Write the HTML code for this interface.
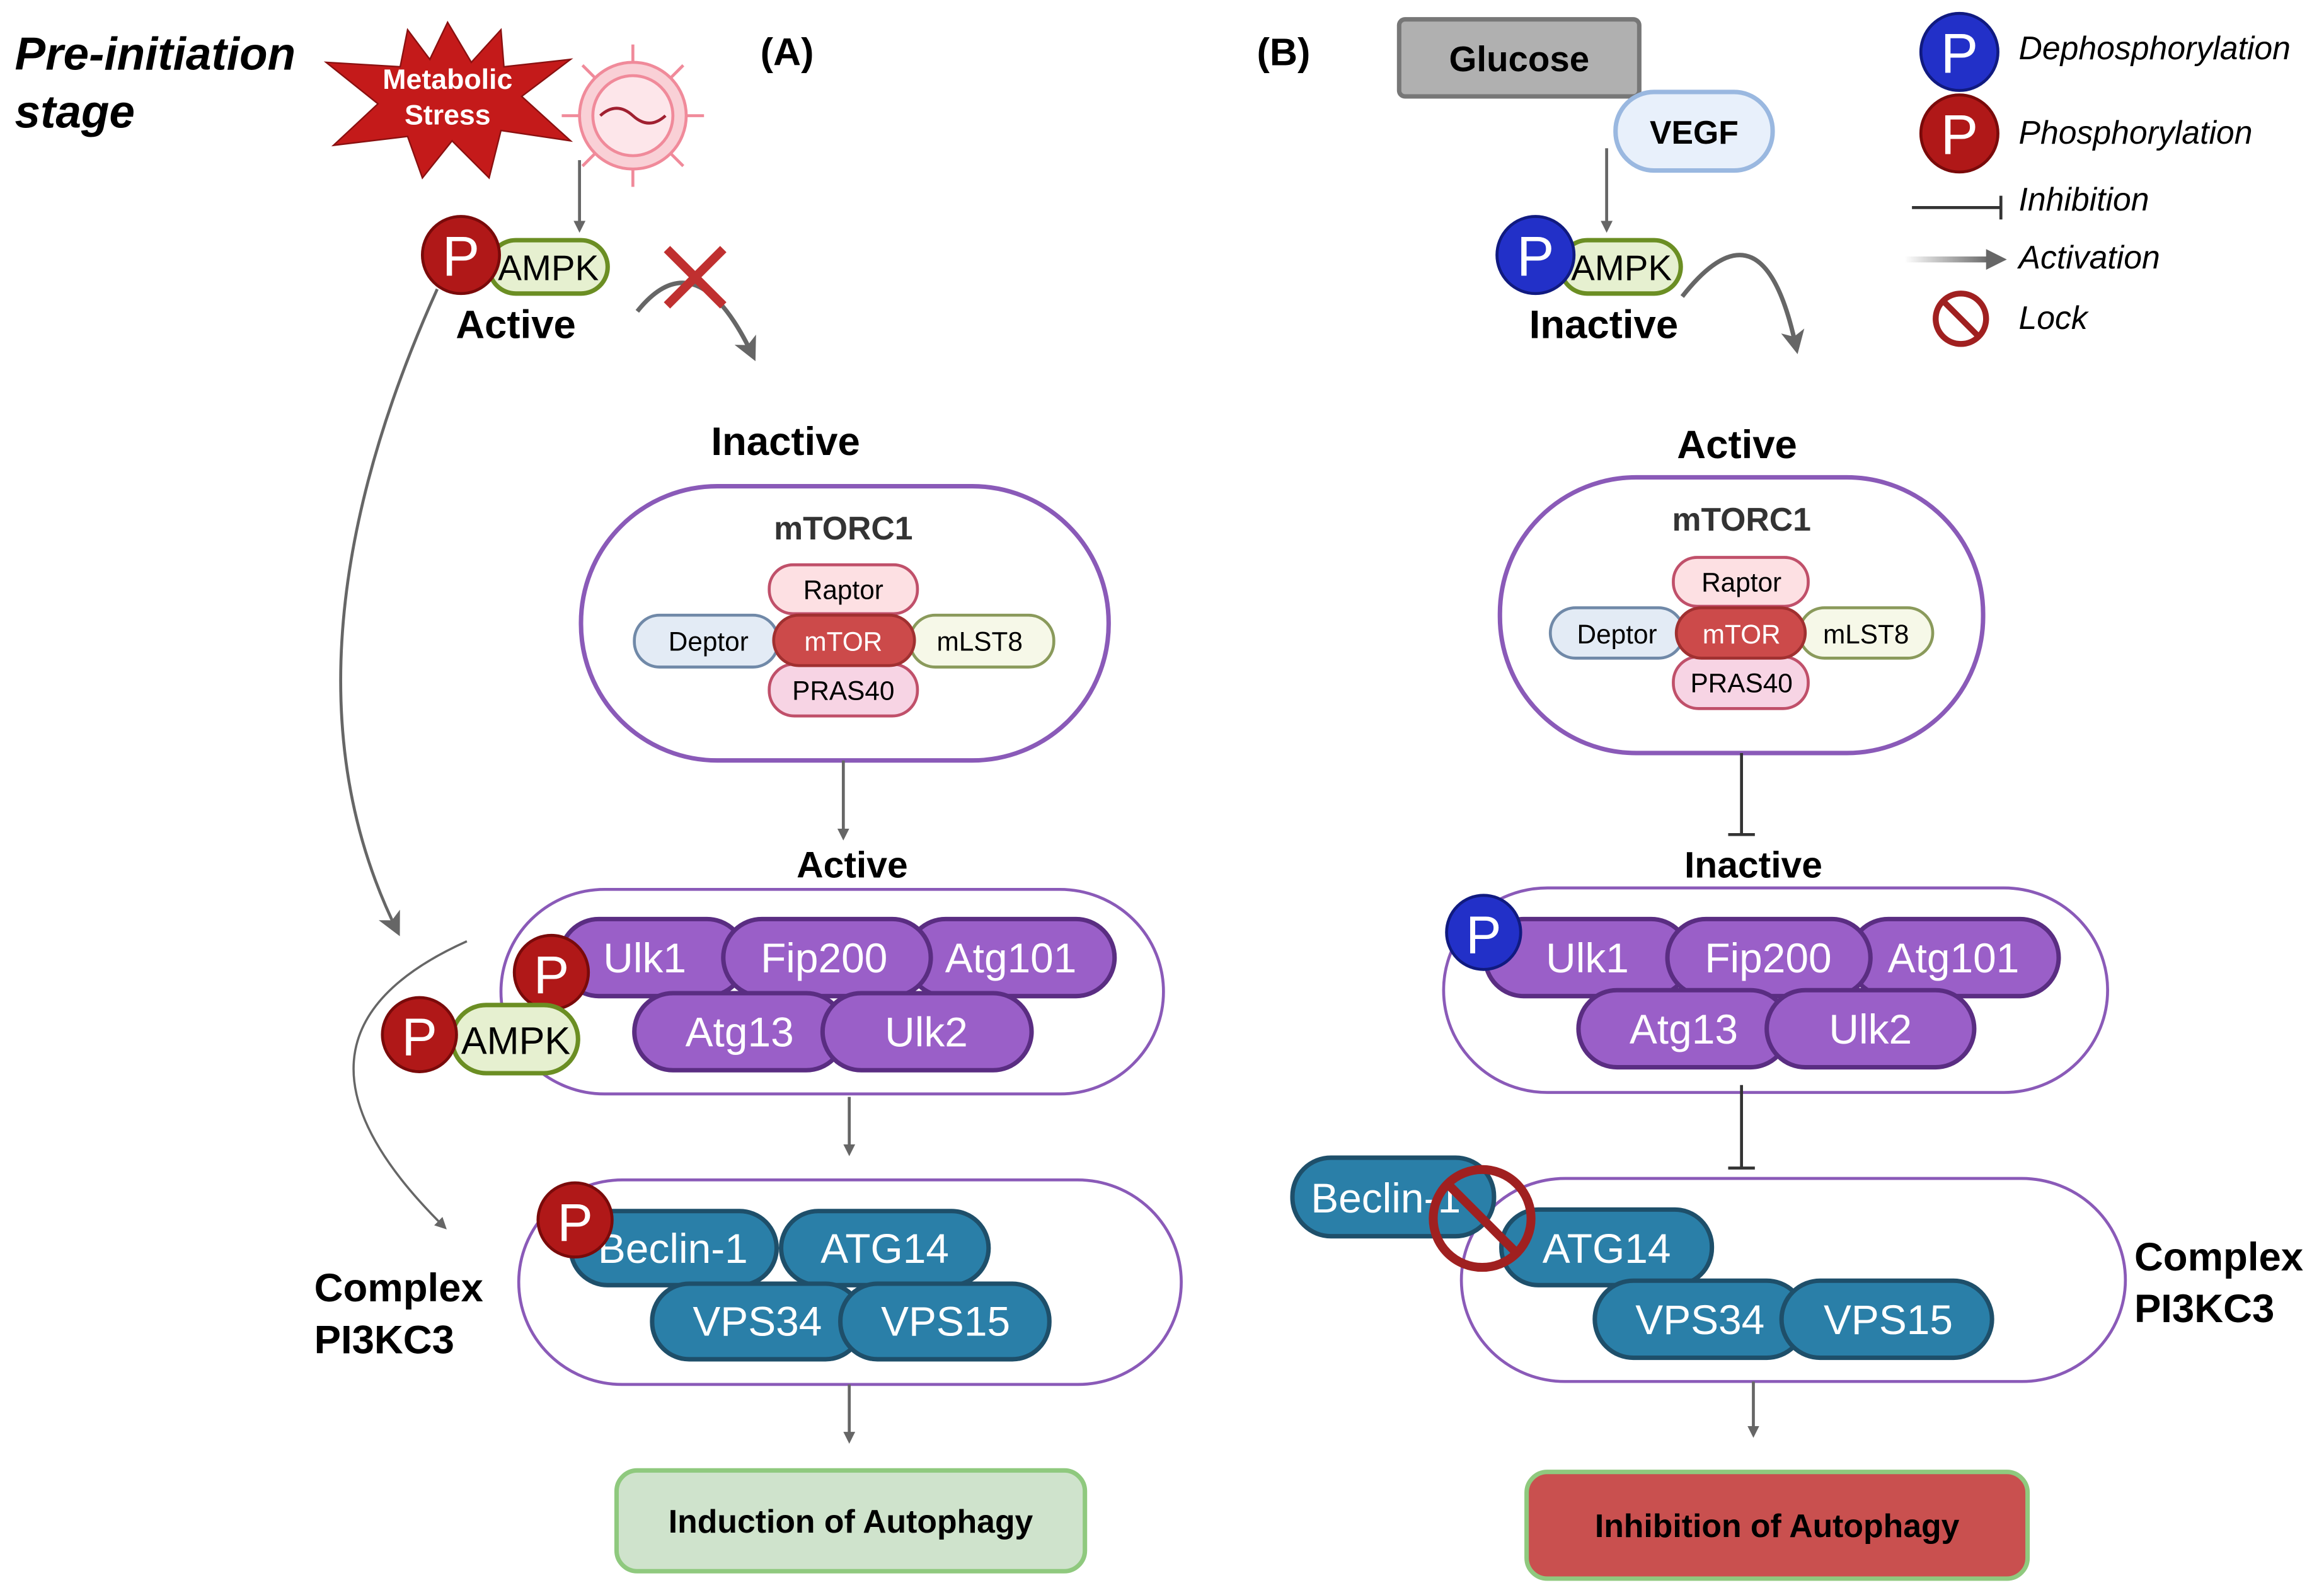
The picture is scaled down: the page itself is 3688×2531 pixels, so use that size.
<!DOCTYPE html>
<html><head><meta charset="utf-8"><style>
html,body{margin:0;padding:0;background:#fff;}
svg{display:block;}
text{font-family:"Liberation Sans",sans-serif;}
</style></head><body>
<svg width="3688" height="2531" viewBox="0 0 1568 1076" xmlns="http://www.w3.org/2000/svg">
<defs>
<marker id="ah" markerWidth="8" markerHeight="8" refX="6" refY="4" orient="auto" markerUnits="userSpaceOnUse"><path d="M0,0 L8,4 L0,8 z" fill="#666"/></marker>
<marker id="ahb" markerWidth="16" markerHeight="16" refX="12" refY="8" orient="auto" markerUnits="userSpaceOnUse"><path d="M0,0 L16,8 L0,16 L4,8 z" fill="#666"/></marker>
<linearGradient id="gr" x1="0" x2="1"><stop offset="0" stop-color="#fff"/><stop offset="1" stop-color="#666"/></linearGradient>
</defs>

<!-- LEFT -->
<text x="10" y="47" font-size="31" font-weight="bold" font-style="italic">Pre-initiation</text>
<text x="10" y="86" font-size="31" font-weight="bold" font-style="italic">stage</text>
<text x="513" y="44" font-size="26" font-weight="bold">(A)</text>
<polygon points="302,15 318,42 338,20 340,45 385,40 352,65 385,95 338,88 330,120 305,95 285,120 275,92 225,98 255,70 220,42 270,45 275,20 290,40" fill="#c41a1a" stroke="#8a1010"/>
<text x="302" y="60" font-size="19" font-weight="bold" fill="#fff" text-anchor="middle">Metabolic</text>
<text x="302" y="84" font-size="19" font-weight="bold" fill="#fff" text-anchor="middle">Stress</text>
<g stroke="#f08a9a" stroke-width="2" fill="#f9d0d6">
<line x1="427" y1="30" x2="427" y2="126"/><line x1="379" y1="78" x2="475" y2="78"/><line x1="393" y1="44" x2="461" y2="112"/><line x1="461" y1="44" x2="393" y2="112"/>
<circle cx="427" cy="78" r="36"/><circle cx="427" cy="78" r="27" fill="#fde6ea"/></g>
<path d="M405,78 q11,-10 22,0 t22,0" stroke="#a02030" fill="none" stroke-width="2"/>
<line x1="391" y1="108" x2="391" y2="155" stroke="#666" stroke-width="2" marker-end="url(#ah)"/>
<rect x="330" y="162" width="80" height="36" rx="18" fill="#e6f0d0" stroke="#6b8e23" stroke-width="3"/>
<text x="370" y="189" font-size="24" text-anchor="middle">AMPK</text>
<circle cx="311" cy="172" r="26" fill="#b01818" stroke="#7a0a0a" stroke-width="2"/>
<text x="311" y="186" font-size="38" fill="#fff" text-anchor="middle">P</text>
<text x="348" y="228" font-size="27" font-weight="bold" text-anchor="middle">Active</text>
<path d="M430,210 Q470,160 508,240" stroke="#666" stroke-width="3" fill="none" marker-end="url(#ahb)"/>
<path d="M450,168 L488,206 M488,168 L450,206" stroke="#c03030" stroke-width="6"/>
<text x="530" y="307" font-size="27" font-weight="bold" text-anchor="middle">Inactive</text>
<rect x="392" y="328" width="356" height="185" rx="92" fill="#fff" stroke="#8a5ab8" stroke-width="3"/>
<text x="569" y="364" font-size="22" font-weight="bold" text-anchor="middle" fill="#333">mTORC1</text>
<rect x="428" y="415" width="97" height="35" rx="17" fill="#e3ebf5" stroke="#7089a8" stroke-width="2"/><text x="478" y="439" font-size="18" text-anchor="middle">Deptor</text>
<rect x="614" y="415" width="97" height="35" rx="17" fill="#f6f8e8" stroke="#8a9a5b" stroke-width="2"/><text x="661" y="439" font-size="18" text-anchor="middle">mLST8</text>
<rect x="519" y="381" width="100" height="33" rx="16" fill="#fde0e3" stroke="#c0506a" stroke-width="2"/><text x="569" y="404" font-size="18" text-anchor="middle">Raptor</text>
<rect x="519" y="448" width="100" height="35" rx="17" fill="#f7d4e4" stroke="#c0506a" stroke-width="2"/><text x="569" y="472" font-size="18" text-anchor="middle">PRAS40</text>
<rect x="522" y="415" width="95" height="34" rx="17" fill="#cc4a4a" stroke="#a03030" stroke-width="2"/><text x="569" y="439" font-size="18" text-anchor="middle" fill="#fff">mTOR</text>
<line x1="569" y1="513" x2="569" y2="565" stroke="#666" stroke-width="2" marker-end="url(#ah)"/>
<text x="575" y="592" font-size="25" font-weight="bold" text-anchor="middle">Active</text>
<rect x="338" y="600" width="447" height="138" rx="70" fill="#fff" stroke="#8a5ab8" stroke-width="2"/>
<g fill="#9a5fc8" stroke="#5a2d82" stroke-width="3" >
<rect x="378" y="620" width="125" height="52" rx="26"/><rect x="612" y="620" width="140" height="52" rx="26"/><rect x="488" y="620" width="140" height="52" rx="26"/>
<rect x="428" y="670" width="142" height="52" rx="26"/><rect x="555" y="670" width="141" height="52" rx="26"/></g>
<g fill="#fff" font-size="28" text-anchor="middle"><text x="435" y="656">Ulk1</text><text x="556" y="656">Fip200</text><text x="682" y="656">Atg101</text><text x="499" y="706">Atg13</text><text x="625" y="706">Ulk2</text></g>
<circle cx="372" cy="656" r="25" fill="#b01818" stroke="#7a0a0a" stroke-width="2"/><text x="372" y="670" font-size="36" fill="#fff" text-anchor="middle">P</text>
<rect x="305" y="678" width="85" height="46" rx="23" fill="#e6f0d0" stroke="#6b8e23" stroke-width="3"/><text x="348" y="711" font-size="26" text-anchor="middle">AMPK</text>
<circle cx="283" cy="698" r="25" fill="#b01818" stroke="#7a0a0a" stroke-width="2"/><text x="283" y="712" font-size="36" fill="#fff" text-anchor="middle">P</text>
<path d="M295,195 Q180,450 268,628" stroke="#666" stroke-width="2" fill="none" marker-end="url(#ahb)"/>
<path d="M315,635 Q170,700 300,828" stroke="#666" stroke-width="1.5" fill="none" marker-end="url(#ah)"/>
<line x1="573" y1="740" x2="573" y2="778" stroke="#666" stroke-width="2" marker-end="url(#ah)"/>
<rect x="350" y="796" width="447" height="138" rx="70" fill="#fff" stroke="#8a5ab8" stroke-width="2"/>
<g fill="#2a7fa8" stroke="#1e4f6a" stroke-width="3">
<rect x="385" y="817" width="139" height="50" rx="25"/><rect x="527" y="817" width="140" height="50" rx="25"/>
<rect x="440" y="866" width="142" height="51" rx="25"/><rect x="567" y="866" width="141" height="51" rx="25"/></g>
<g fill="#fff" font-size="28" text-anchor="middle"><text x="454" y="852">Beclin-1</text><text x="597" y="852">ATG14</text><text x="511" y="901">VPS34</text><text x="638" y="901">VPS15</text></g>
<circle cx="388" cy="823" r="25" fill="#b01818" stroke="#7a0a0a" stroke-width="2"/><text x="388" y="837" font-size="36" fill="#fff" text-anchor="middle">P</text>
<text x="212" y="878" font-size="27" font-weight="bold">Complex</text>
<text x="212" y="913" font-size="27" font-weight="bold">PI3KC3</text>
<line x1="573" y1="934" x2="573" y2="972" stroke="#666" stroke-width="2" marker-end="url(#ah)"/>
<rect x="416" y="992" width="316" height="68" rx="14" fill="#cfe3cc" stroke="#8fc97e" stroke-width="3"/>
<text x="574" y="1034" font-size="22" font-weight="bold" text-anchor="middle">Induction of Autophagy</text>

<!-- RIGHT -->
<text x="848" y="44" font-size="26" font-weight="bold">(B)</text>
<rect x="944" y="13" width="162" height="52" rx="4" fill="#b0b0b0" stroke="#777" stroke-width="3"/>
<text x="1025" y="48" font-size="24" font-weight="bold" text-anchor="middle">Glucose</text>
<rect x="1090" y="62" width="106" height="53" rx="26" fill="#e8f0fb" stroke="#9ab8e0" stroke-width="3"/>
<text x="1143" y="97" font-size="22" font-weight="bold" text-anchor="middle">VEGF</text>
<line x1="1084" y1="100" x2="1084" y2="155" stroke="#666" stroke-width="2" marker-end="url(#ah)"/>
<rect x="1053" y="162" width="81" height="36" rx="18" fill="#e6f0d0" stroke="#6b8e23" stroke-width="3"/>
<text x="1094" y="189" font-size="24" text-anchor="middle">AMPK</text>
<circle cx="1036" cy="172" r="26" fill="#2230c8" stroke="#101a80" stroke-width="2"/><text x="1036" y="186" font-size="38" fill="#fff" text-anchor="middle">P</text>
<text x="1082" y="228" font-size="27" font-weight="bold" text-anchor="middle">Inactive</text>
<path d="M1135,200 Q1190,130 1212,235" stroke="#666" stroke-width="3" fill="none" marker-end="url(#ahb)"/>
<text x="1172" y="309" font-size="27" font-weight="bold" text-anchor="middle">Active</text>
<rect x="1012" y="322" width="326" height="186" rx="92" fill="#fff" stroke="#8a5ab8" stroke-width="3"/>
<text x="1175" y="358" font-size="22" font-weight="bold" text-anchor="middle" fill="#333">mTORC1</text>
<rect x="1046" y="410" width="90" height="34" rx="17" fill="#e3ebf5" stroke="#7089a8" stroke-width="2"/><text x="1091" y="434" font-size="18" text-anchor="middle">Deptor</text>
<rect x="1214" y="410" width="90" height="34" rx="17" fill="#f6f8e8" stroke="#8a9a5b" stroke-width="2"/><text x="1259" y="434" font-size="18" text-anchor="middle">mLST8</text>
<rect x="1129" y="376" width="91" height="33" rx="16" fill="#fde0e3" stroke="#c0506a" stroke-width="2"/><text x="1175" y="399" font-size="18" text-anchor="middle">Raptor</text>
<rect x="1129" y="443" width="91" height="35" rx="17" fill="#f7d4e4" stroke="#c0506a" stroke-width="2"/><text x="1175" y="467" font-size="18" text-anchor="middle">PRAS40</text>
<rect x="1131" y="410" width="87" height="34" rx="17" fill="#cc4a4a" stroke="#a03030" stroke-width="2"/><text x="1175" y="434" font-size="18" text-anchor="middle" fill="#fff">mTOR</text>
<path d="M1175,508 V563 M1166,563 H1184" stroke="#333" stroke-width="2"/>
<text x="1183" y="592" font-size="25" font-weight="bold" text-anchor="middle">Inactive</text>
<rect x="974" y="599" width="448" height="138" rx="70" fill="#fff" stroke="#8a5ab8" stroke-width="2"/>
<g fill="#9a5fc8" stroke="#5a2d82" stroke-width="3">
<rect x="1002" y="620" width="138" height="52" rx="26"/><rect x="1248" y="620" width="141" height="52" rx="26"/><rect x="1125" y="620" width="137" height="52" rx="26"/>
<rect x="1065" y="668" width="142" height="52" rx="26"/><rect x="1192" y="668" width="140" height="52" rx="26"/></g>
<g fill="#fff" font-size="28" text-anchor="middle"><text x="1071" y="656">Ulk1</text><text x="1193" y="656">Fip200</text><text x="1318" y="656">Atg101</text><text x="1136" y="704">Atg13</text><text x="1262" y="704">Ulk2</text></g>
<circle cx="1001" cy="629" r="25" fill="#2230c8" stroke="#101a80" stroke-width="2"/><text x="1001" y="643" font-size="36" fill="#fff" text-anchor="middle">P</text>
<path d="M1175,732 V788 M1166,788 H1184" stroke="#333" stroke-width="2"/>
<rect x="986" y="795" width="448" height="137" rx="70" fill="#fff" stroke="#8a5ab8" stroke-width="2"/>
<g fill="#2a7fa8" stroke="#1e4f6a" stroke-width="3">
<rect x="872" y="781" width="136" height="53" rx="26"/><rect x="1013" y="816" width="142" height="51" rx="25"/>
<rect x="1076" y="864" width="142" height="52" rx="26"/><rect x="1202" y="864" width="142" height="52" rx="26"/></g>
<g fill="#fff" font-size="28" text-anchor="middle"><text x="935" y="818">Beclin-1</text><text x="1084" y="852">ATG14</text><text x="1147" y="900">VPS34</text><text x="1274" y="900">VPS15</text></g>
<circle cx="1000" cy="822" r="33" fill="none" stroke="#a02020" stroke-width="6"/>
<line x1="977" y1="799" x2="1023" y2="845" stroke="#a02020" stroke-width="6"/>
<text x="1440" y="857" font-size="27" font-weight="bold">Complex</text>
<text x="1440" y="892" font-size="27" font-weight="bold">PI3KC3</text>
<line x1="1183" y1="932" x2="1183" y2="968" stroke="#666" stroke-width="2" marker-end="url(#ah)"/>
<rect x="1030" y="993" width="338" height="72" rx="14" fill="#c9504f" stroke="#8fc97e" stroke-width="3"/>
<text x="1199" y="1037" font-size="22" font-weight="bold" text-anchor="middle">Inhibition of Autophagy</text>

<!-- LEGEND -->
<circle cx="1322" cy="35" r="26" fill="#2230c8" stroke="#101a80" stroke-width="2"/><text x="1322" y="49" font-size="38" fill="#fff" text-anchor="middle">P</text>
<text x="1362" y="40" font-size="22" font-style="italic">Dephosphorylation</text>
<circle cx="1322" cy="90" r="26" fill="#b01818" stroke="#7a0a0a" stroke-width="2"/><text x="1322" y="104" font-size="38" fill="#fff" text-anchor="middle">P</text>
<text x="1362" y="97" font-size="22" font-style="italic">Phosphorylation</text>
<path d="M1290,140 H1350 M1350,132 V148" stroke="#333" stroke-width="2"/>
<text x="1362" y="142" font-size="22" font-style="italic">Inhibition</text>
<rect x="1285" y="173" width="58" height="4" fill="url(#gr)"/>
<path d="M1340,168 L1354,175 L1340,182 z" fill="#666"/>
<text x="1362" y="181" font-size="22" font-style="italic">Activation</text>
<circle cx="1323" cy="215" r="17" fill="none" stroke="#a02020" stroke-width="4"/>
<line x1="1311" y1="203" x2="1335" y2="227" stroke="#a02020" stroke-width="4"/>
<text x="1362" y="222" font-size="22" font-style="italic">Lock</text>
</svg>
</body></html>
